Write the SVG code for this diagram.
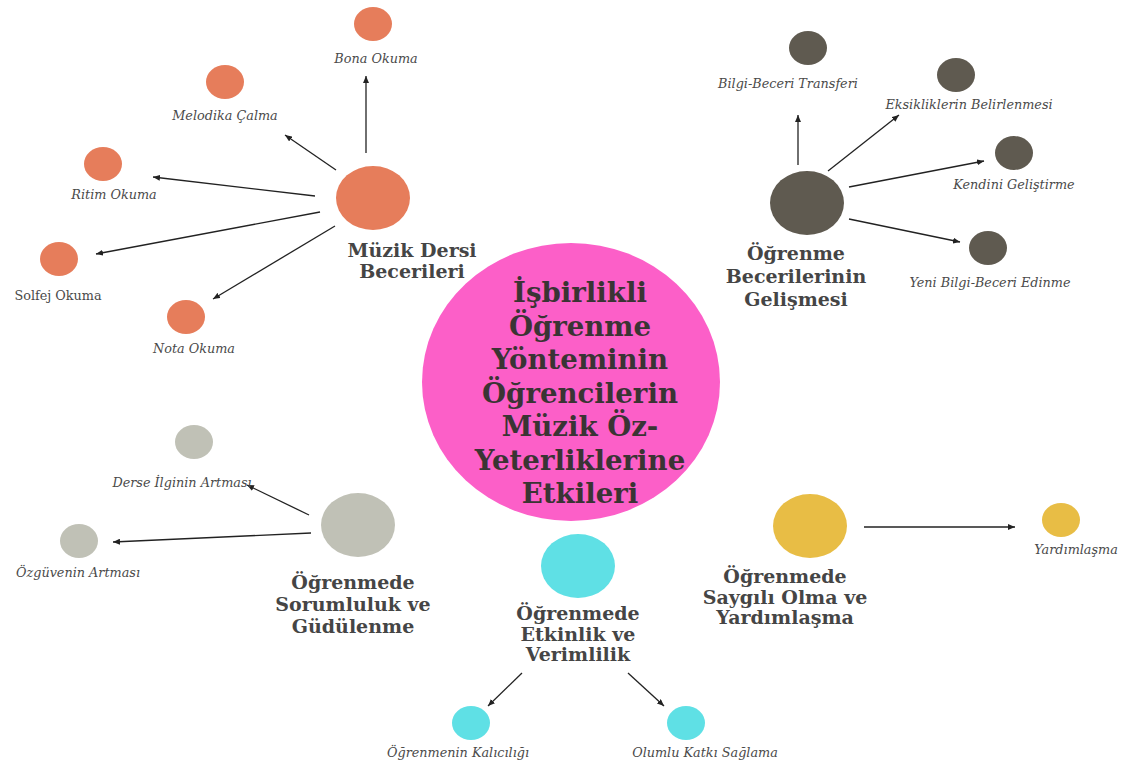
<svg xmlns="http://www.w3.org/2000/svg" width="1130" height="767" viewBox="0 0 1130 767">
<style>
.it{font-family:"DejaVu Serif","Liberation Serif",serif;font-style:italic;font-size:12.8px;fill:#4a4a4a;text-anchor:middle}
.up{font-family:"DejaVu Serif","Liberation Serif",serif;font-size:12.8px;fill:#4a4a4a;text-anchor:middle}
.bl{font-family:"DejaVu Serif","Liberation Serif",serif;font-weight:bold;font-size:19px;fill:#454545;text-anchor:middle}
.ct{font-family:"DejaVu Serif","Liberation Serif",serif;font-weight:bold;font-size:27.6px;fill:#3a3434;text-anchor:middle}
.or{fill:#e67d5b}.dk{fill:#5f5a50}.gr{fill:#c0c1b6}.cy{fill:#5fe0e5}.ye{fill:#e8bd45}
.cn line{stroke:#222;stroke-width:1.3;marker-end:url(#ah)}
</style>
<defs>
<marker id="ah" markerUnits="userSpaceOnUse" markerWidth="7" markerHeight="6" refX="7" refY="3" orient="auto">
<path d="M0,0 L7,3 L0,6 z" fill="#222"/>
</marker>
</defs>
<rect width="1130" height="767" fill="#fff"/>

<g id="center">
<ellipse cx="571" cy="382" rx="149" ry="139" fill="#fc5fc8"/>
<text class="ct" x="580" y="302">İşbirlikli</text>
<text class="ct" x="580" y="336">Öğrenme</text>
<text class="ct" x="580" y="369">Yönteminin</text>
<text class="ct" x="580" y="403">Öğrencilerin</text>
<text class="ct" x="580" y="436">Müzik Öz-</text>
<text class="ct" x="580" y="470">Yeterliklerine</text>
<text class="ct" x="580" y="503">Etkileri</text>
</g>

<g class="cn" id="connectors">
<line x1="366" y1="153" x2="366" y2="76"/>
<line x1="336" y1="170" x2="285" y2="135"/>
<line x1="315" y1="196" x2="153" y2="177"/>
<line x1="320" y1="212" x2="96" y2="254"/>
<line x1="335" y1="226" x2="213" y2="299"/>
<line x1="798" y1="165" x2="798" y2="115"/>
<line x1="828" y1="171" x2="899" y2="115"/>
<line x1="849" y1="187" x2="984" y2="161"/>
<line x1="849" y1="219" x2="960" y2="242"/>
<line x1="309" y1="515" x2="247" y2="485"/>
<line x1="311" y1="533" x2="113" y2="542"/>
<line x1="522" y1="673" x2="488" y2="706"/>
<line x1="628" y1="673" x2="664" y2="706"/>
<line x1="864" y1="527" x2="1015" y2="527"/>
</g>

<g id="muzik">
<ellipse class="or" cx="373" cy="198" rx="37" ry="32"/>
<text class="bl" x="412" y="257">Müzik Dersi</text>
<text class="bl" x="412" y="278">Becerileri</text>
</g>
<g id="bona"><ellipse class="or" cx="373" cy="24" rx="19" ry="17"/><text class="it" x="376" y="63">Bona Okuma</text></g>
<g id="melodika"><ellipse class="or" cx="225" cy="82" rx="19" ry="17"/><text class="it" x="225" y="120">Melodika Çalma</text></g>
<g id="ritim"><ellipse class="or" cx="103" cy="164" rx="19" ry="17"/><text class="it" x="114" y="199">Ritim Okuma</text></g>
<g id="solfej"><ellipse class="or" cx="59" cy="259" rx="19" ry="17"/><text class="up" x="58" y="300">Solfej Okuma</text></g>
<g id="nota"><ellipse class="or" cx="186" cy="317" rx="19" ry="17"/><text class="it" x="194" y="353">Nota Okuma</text></g>

<g id="ogrenme-beceri">
<ellipse class="dk" cx="807" cy="203" rx="37" ry="32"/>
<text class="bl" x="796" y="260">Öğrenme</text>
<text class="bl" x="796" y="283">Becerilerinin</text>
<text class="bl" x="796" y="306">Gelişmesi</text>
</g>
<g id="transfer"><ellipse class="dk" cx="808" cy="48" rx="19" ry="17"/><text class="it" x="788" y="88">Bilgi-Beceri Transferi</text></g>
<g id="eksik"><ellipse class="dk" cx="956" cy="75" rx="19" ry="17"/><text class="it" x="969" y="109">Eksikliklerin Belirlenmesi</text></g>
<g id="kendini"><ellipse class="dk" cx="1014" cy="153" rx="19" ry="17"/><text class="it" x="1014" y="189">Kendini Geliştirme</text></g>
<g id="yeni"><ellipse class="dk" cx="988" cy="248" rx="19" ry="17"/><text class="it" x="990" y="287">Yeni Bilgi-Beceri Edinme</text></g>

<g id="sorumluluk">
<ellipse class="gr" cx="358" cy="525" rx="37" ry="32"/>
<text class="bl" x="353" y="589">Öğrenmede</text>
<text class="bl" x="353" y="611">Sorumluluk ve</text>
<text class="bl" x="353" y="633">Güdülenme</text>
</g>
<g id="ilgi"><ellipse class="gr" cx="194" cy="442" rx="19" ry="17"/><text class="it" x="182" y="487">Derse İlginin Artması</text></g>
<g id="ozguven"><ellipse class="gr" cx="79" cy="541" rx="19" ry="17"/><text class="it" x="78" y="577">Özgüvenin Artması</text></g>

<g id="etkinlik">
<ellipse class="cy" cx="578" cy="566" rx="37" ry="32"/>
<text class="bl" x="578" y="620">Öğrenmede</text>
<text class="bl" x="578" y="641">Etkinlik ve</text>
<text class="bl" x="578" y="661">Verimlilik</text>
</g>
<g id="kalicilik"><ellipse class="cy" cx="471" cy="723" rx="19" ry="17"/><text class="it" x="458" y="757">Öğrenmenin Kalıcılığı</text></g>
<g id="katki"><ellipse class="cy" cx="686" cy="723" rx="19" ry="17"/><text class="it" x="705" y="757">Olumlu Katkı Sağlama</text></g>

<g id="saygi">
<ellipse class="ye" cx="810" cy="526" rx="37" ry="32"/>
<text class="bl" x="785" y="583">Öğrenmede</text>
<text class="bl" x="785" y="604">Saygılı Olma ve</text>
<text class="bl" x="785" y="624">Yardımlaşma</text>
</g>
<g id="yardim"><ellipse class="ye" cx="1061" cy="520" rx="19" ry="17"/><text class="it" x="1076" y="554">Yardımlaşma</text></g>
</svg>
